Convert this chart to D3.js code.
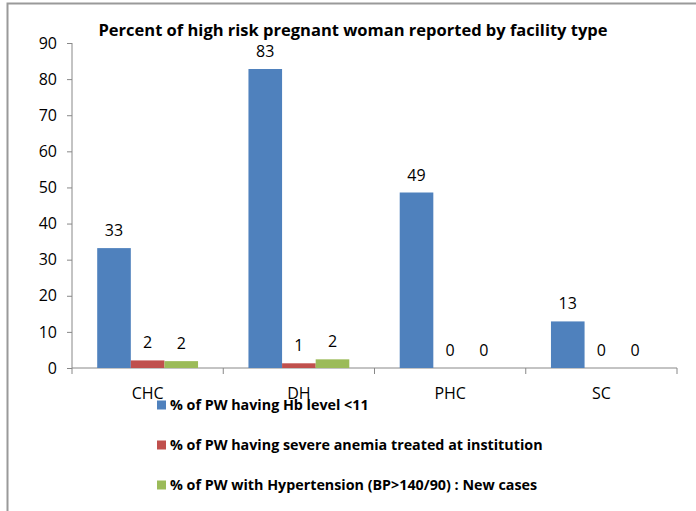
<!DOCTYPE html>
<html><head><meta charset="utf-8">
<script src="https://cdn.jsdelivr.net/npm/d3@7"></script>
<style>body{margin:0;background:#fff}svg{display:block}text{font-family:"Open Sans",sans-serif}</style>
</head><body><svg id="c" width="696" height="511"></svg>
<script>
const categories = ["CHC","DH","PHC","SC"];
const seriesNames = ["% of PW having Hb level <11","% of PW having severe anemia treated at institution","% of PW with Hypertension (BP>140/90) : New cases"];
const hbValues = [33.2, 82.8, 48.6, 12.9];
const anemiaValues = [2.1, 1.3, 0, 0];
const hyperValues = [1.9, 2.4, 0, 0];
const labelsHb = ["33","83","49","13"];
const labelsAnemia = ["2","1","0","0"];
const labelsHyper = ["2","2","0","0"];
const yTicks = [0,10,20,30,40,50,60,70,80,90];
const colors = ["#4F81BD","#C0504D","#9BBB59"];

const series = [hbValues, anemiaValues, hyperValues];
const labels = [labelsHb, labelsAnemia, labelsHyper];
const svg = d3.select("#c");
svg.append("path").attr("d","M7.5,511V3.5H696").attr("fill","none").attr("stroke","#9a9a9a").attr("stroke-width",2);

const x0 = d3.scaleBand().domain(categories).range([72,677]).paddingInner(0).paddingOuter(0);
const x1 = d3.scaleBand().domain([0,1,2]).range([0,x0.bandwidth()]).paddingInner(0).paddingOuter(0.75);
const y = d3.scaleLinear().domain([0,90]).range([368,43]);

const yAxis = svg.append("g").attr("transform","translate(72,0)")
  .call(d3.axisLeft(y).tickValues(yTicks).tickSize(5).tickPadding(10));
yAxis.select(".domain").attr("stroke","#888").attr("d","M0,43V368");
yAxis.selectAll(".tick line").attr("stroke","#888");
yAxis.selectAll("text").attr("font-size",16).attr("fill","#000").attr("font-family","'Open Sans',sans-serif");

const xAxis = svg.append("g").attr("transform","translate(0,368)")
  .call(d3.axisBottom(x0).tickSize(0).tickPadding(20));
xAxis.select(".domain").attr("stroke","#888").attr("d","M72,0H677");
xAxis.selectAll("text").attr("font-size",16).attr("fill","#000").attr("font-family","'Open Sans',sans-serif");
const bounds = categories.map(c=>x0(c)).concat([x0(categories[3])+x0.bandwidth()]);
svg.selectAll("line.sep").data(bounds).join("line").attr("class","sep")
  .attr("x1",d=>d).attr("x2",d=>d).attr("y1",368).attr("y2",374).attr("stroke","#888");

series.forEach((vals,si)=>{
  svg.selectAll("rect.s"+si).data(vals).join("rect").attr("class","s"+si)
    .attr("x",(d,i)=>x0(categories[i])+x1(si)).attr("width",x1.bandwidth())
    .attr("y",d=>y(d)).attr("height",d=>368-y(d)).attr("fill",colors[si]);
  svg.selectAll("text.l"+si).data(vals).join("text").attr("class","l"+si)
    .attr("x",(d,i)=>x0(categories[i])+x1(si)+x1.bandwidth()/2)
    .attr("y",d=>y(d)-12).attr("text-anchor","middle").attr("font-size",16).attr("fill","#000")
    .text((d,i)=>labels[si][i]);
});

svg.append("text").attr("x",353).attr("y",36).attr("text-anchor","middle")
  .attr("font-size",16.5).attr("font-weight","bold").attr("fill","#000")
  .text("Percent of high risk pregnant woman reported by facility type");

const lg = svg.append("g");
seriesNames.forEach((n,i)=>{
  const cy = 405 + i*40;
  lg.append("rect").attr("x",157).attr("y",cy-4.5).attr("width",9).attr("height",9).attr("fill",colors[i]);
  lg.append("text").attr("x",170).attr("y",cy+5).attr("font-size",14.3).attr("font-weight","bold").attr("fill","#000").text(n);
});
</script></body></html>
